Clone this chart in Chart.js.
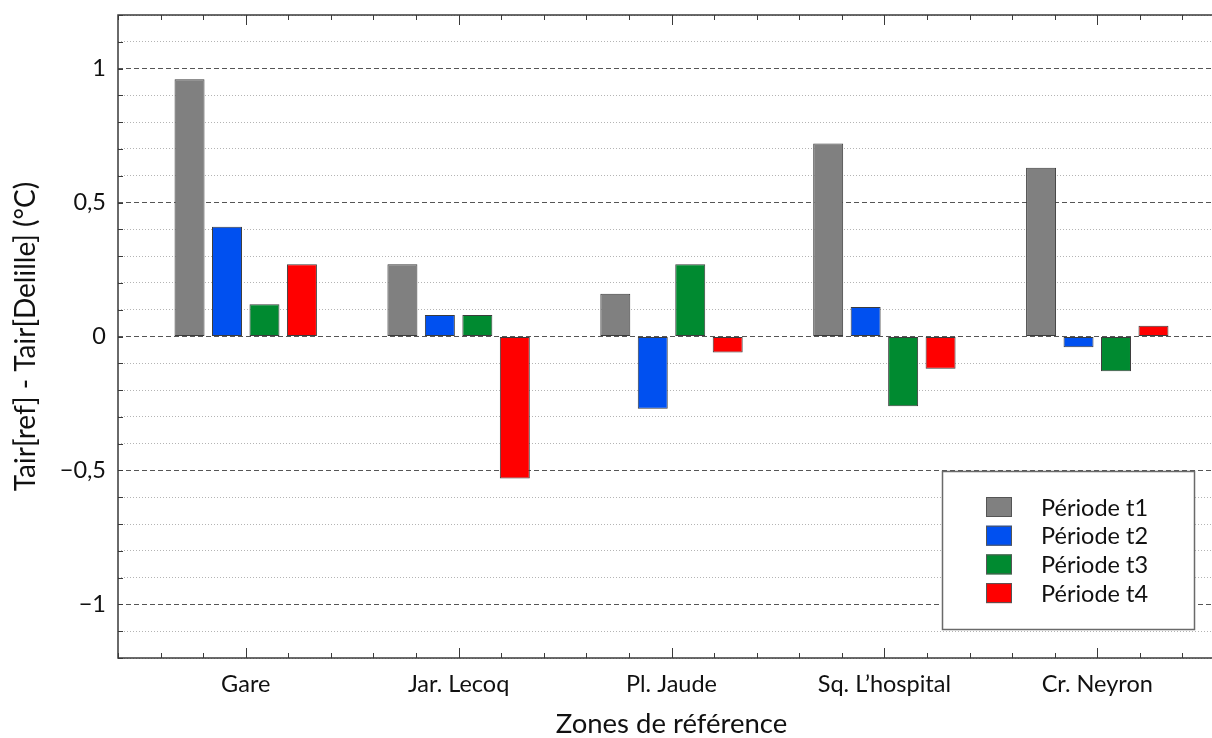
<!DOCTYPE html>
<html lang="fr">
<head>
<meta charset="utf-8">
<title>Tair[ref] - Tair[Delille]</title>
<script src="https://cdn.jsdelivr.net/npm/chart.js@4/dist/chart.umd.min.js"></script>
<style>
  html, body { margin: 0; padding: 0; background: #fff; overflow: hidden; }
  #wrap { width: 1240px; height: 738px; }
</style>
</head>
<body>
<div id="wrap"><canvas id="c" width="1240" height="738"></canvas></div>
<script>
// Zones de référence et écarts de température par période (°C)
const zones = ['Gare', 'Jar. Lecoq', 'Pl. Jaude', 'Sq. L\u2019hospital', 'Cr. Neyron'];
const periodes = ['Période t1', 'Période t2', 'Période t3', 'Période t4'];
const ecartT1 = [0.96, 0.27, 0.16, 0.72, 0.63];
const ecartT2 = [0.41, 0.08, -0.27, 0.11, -0.04];
const ecartT3 = [0.12, 0.08, 0.27, -0.26, -0.13];
const ecartT4 = [0.27, -0.53, -0.06, -0.12, 0.04];
const couleurs = ['#808080', '#0050f0', '#008a30', '#ff0000'];
const yTicks = [-1, -0.5, 0, 0.5, 1];

const FONT = "Lato, 'Open Sans', 'DejaVu Sans', sans-serif";
const series = [ecartT1, ecartT2, ecartT3, ecartT4];

const datasets = series.map((vals, k) => ({
  label: periodes[k],
  data: vals.map((v, i) => ({ x: i, y: v })),
  backgroundColor: couleurs[k],
  borderColor: '#3c3c3c',
  borderWidth: 1,
  borderSkipped: false,
  categoryPercentage: 0.704,
  barPercentage: 0.8
}));

const isMajorY = v => yTicks.some(t => Math.abs(t - v) < 1e-6);
const fmtY = v => {
  const r = Math.round(v * 10) / 10;
  return String(r).replace('.', ',').replace('-', '\u2212');
};

// Cadre du graphique, graduations intérieures et légende encadrée
const cadre = {
  id: 'cadre',
  afterDraw(chart) {
    const { ctx, chartArea: a, scales: { x, y } } = chart;
    ctx.save();
    ctx.strokeStyle = '#3a3a3a';
    ctx.lineWidth = 1;
    // graduations de l'axe horizontal (haut et bas)
    for (let k = -3; k <= 23; k++) {
      const v = k / 5;
      const px = Math.round(x.getPixelForValue(v)) + 0.5;
      const len = (k % 5 === 0) ? 10 : 5;
      ctx.beginPath();
      ctx.moveTo(px, a.bottom); ctx.lineTo(px, a.bottom - len);
      ctx.moveTo(px, a.top); ctx.lineTo(px, a.top + len);
      ctx.stroke();
    }
    // graduations de l'axe vertical
    for (let k = -12; k <= 12; k++) {
      const py = Math.round(y.getPixelForValue(k / 10)) + 0.5;
      ctx.beginPath();
      ctx.moveTo(a.left, py); ctx.lineTo(a.left + 5, py);
      ctx.stroke();
    }
    ctx.lineWidth = 1.5;
    ctx.strokeRect(a.left, a.top, a.right - a.left, a.bottom - a.top);

    // légende
    const bw = 252, bh = 158;
    const bx = a.right - 31 - bw, by = a.bottom - 29 - bh;
    ctx.fillStyle = '#ffffff';
    ctx.fillRect(bx, by, bw, bh);
    ctx.strokeStyle = '#6a6a6a';
    ctx.lineWidth = 1.5;
    ctx.strokeRect(bx + 0.5, by + 0.5, bw, bh);
    ctx.font = '23.5px ' + FONT;
    ctx.textBaseline = 'middle';
    ctx.textAlign = 'left';
    chart.data.datasets.forEach((ds, i) => {
      const cy = by + 36 + i * 28.7;
      ctx.fillStyle = ds.backgroundColor;
      ctx.fillRect(bx + 44, cy - 10, 26, 20);
      ctx.strokeStyle = '#555';
      ctx.lineWidth = 1;
      ctx.strokeRect(bx + 44.5, cy - 9.5, 25, 19);
      ctx.fillStyle = '#111';
      ctx.fillText(ds.label, bx + 99, cy + 1);
    });
    ctx.restore();
  }
};

new Chart(document.getElementById('c'), {
  type: 'bar',
  data: { datasets },
  options: {
    responsive: false,
    animation: false,
    devicePixelRatio: 1,
    layout: { padding: { left: 0, top: 15, right: 15, bottom: 0 } },
    plugins: { legend: { display: false }, tooltip: { enabled: false } },
    scales: {
      x: {
        type: 'linear',
        offset: false,
        min: -0.6,
        max: 4.6,
        afterBuildTicks: s => {
          s.ticks = zones.map((_, i) => ({ value: i }));
        },
        afterFit: s => { s.height = 80; s.paddingLeft = 0; s.paddingRight = 0; },
        grid: { display: false, drawTicks: false, offset: false },
        border: { display: false },
        ticks: {
          autoSkip: false,
          maxRotation: 0,
          padding: 12,
          color: '#111',
          font: { family: FONT, size: 23.5 },
          callback: v => zones[Math.round(v)] ?? ''
        },
        title: {
          display: true,
          text: 'Zones de référence',
          color: '#111',
          font: { family: FONT, size: 27.5 },
          padding: { top: 0, bottom: -3 }
        }
      },
      y: {
        min: -1.2,
        max: 1.2,
        afterFit: s => { s.width = 118; s.paddingTop = 0; s.paddingBottom = 0; },
        ticks: {
          stepSize: 0.1,
          autoSkip: false,
          padding: 12,
          color: '#111',
          font: { family: FONT, size: 23.5 },
          callback: v => isMajorY(v) ? fmtY(v) : ''
        },
        grid: {
          drawTicks: false,
          lineWidth: 1,
          color: c => isMajorY(c.tick ? c.tick.value : 0) ? '#555555' : '#b4b4b4'
        },
        border: {
          display: false,
          dash: c => isMajorY(c.tick ? c.tick.value : 0) ? [5, 3] : [1, 2]
        },
        title: {
          display: true,
          text: 'Tair[ref] - Tair[Delille] (°C)',
          color: '#111',
          font: { family: FONT, size: 28 },
          padding: { top: 9, bottom: 0 }
        }
      }
    }
  },
  plugins: [cadre]
});
</script>
</body>
</html>
